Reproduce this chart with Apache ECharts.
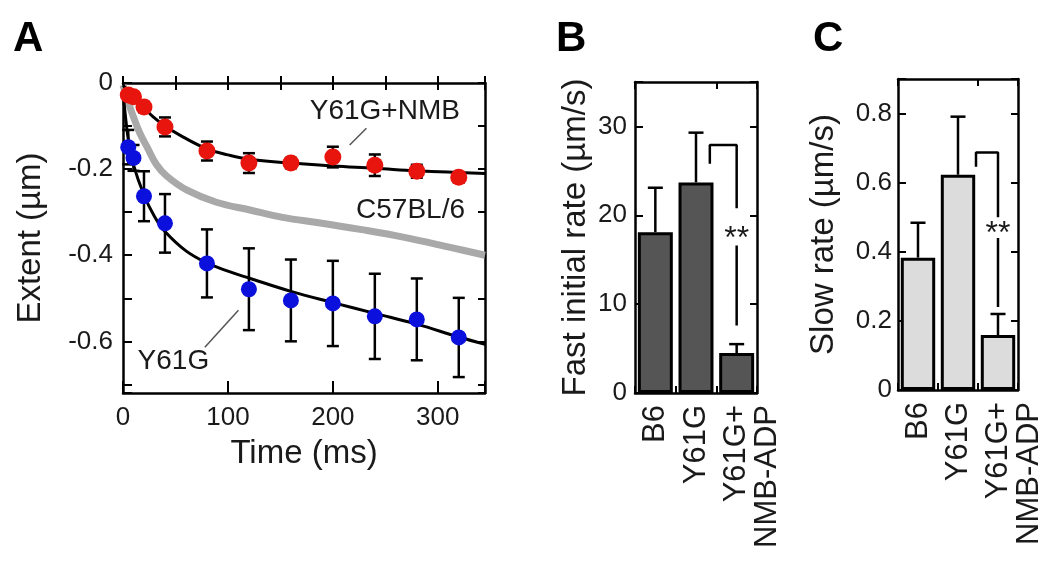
<!DOCTYPE html>
<html><head><meta charset="utf-8">
<script src="https://cdn.jsdelivr.net/npm/echarts@6/dist/echarts.min.js"></script>
<style>html,body{margin:0;padding:0;background:#fff}#c{width:1050px;height:578px}</style>
</head><body><div id="c"></div>
<script>
// ---- Panel A data ----
const timesMs = [5, 10, 20, 40, 80, 120, 160, 200, 240, 280, 320];
const nmbExtent = [-0.028, -0.032, -0.056, -0.102, -0.158, -0.186, -0.186, -0.172, -0.191, -0.205, -0.219];
const nmbErr = [0.005, 0.005, 0.012, 0.022, 0.022, 0.023, 0.012, 0.024, 0.025, 0.015, 0.012];
const y61gExtent = [-0.149, -0.174, -0.263, -0.326, -0.419, -0.479, -0.505, -0.512, -0.542, -0.549, -0.591];
const y61gErr = [0.04, 0.03, 0.058, 0.068, 0.079, 0.095, 0.095, 0.099, 0.099, 0.095, 0.092];
const nmbFitT = [0, 5, 10, 20, 29, 40, 57, 80, 100, 120, 160, 200, 240, 280, 345];
const nmbFitY = [-0.005, -0.02, -0.035, -0.058, -0.079, -0.1, -0.125, -0.153, -0.167, -0.177, -0.186, -0.193, -0.198, -0.204, -0.21];
const y61gFitT = [0, 2, 5, 10, 20, 30, 40, 60, 80, 100, 120, 160, 200, 240, 280, 320, 345];
const y61gFitY = [-0.02, -0.07, -0.13, -0.19, -0.26, -0.31, -0.345, -0.39, -0.418, -0.437, -0.453, -0.484, -0.51, -0.535, -0.56, -0.59, -0.607];
const b6FitT = [0, 5, 10, 16, 23, 32, 42, 61, 89, 121, 152, 188, 226, 267, 314, 345];
const b6FitY = [-0.005, -0.045, -0.079, -0.116, -0.149, -0.19, -0.217, -0.249, -0.277, -0.295, -0.312, -0.325, -0.34, -0.358, -0.383, -0.4];
const xTickLabelsA = [0, 100, 200, 300];
const yTickLabelsA = [0, -0.2, -0.4, -0.6];

// ---- Panels B & C data ----
const barCategories = ['B6', 'Y61G', 'Y61G+\nNMB-ADP'];
const fastRate = [18.1, 23.7, 4.5];
const fastRateErr = [5.0, 5.6, 1.0];
const slowRate = [0.383, 0.623, 0.159];
const slowRateErr = [0.101, 0.168, 0.061];
const bracketB = [[1.34, 25.8], [1.34, 27.9], [2, 27.9], [2, 20.8]];
const stemB = [[2, 16.6], [2, 7.6]];
const starB = [2, 17.3];
const bracketC = [[1.45, 0.646], [1.45, 0.687], [2, 0.687], [2, 0.50]];
const stemC = [[2, 0.44], [2, 0.24]];
const starC = [2, 0.452];

const FONT = '"Liberation Sans", Arial, Helvetica, sans-serif';
const TXT = '#1a1a1a';
const CAT_LH = 31;

const zip = (a, b) => a.map((v, i) => [v, b[i]]);
const zip3 = (a, b, c) => a.map((v, i) => [v, b[i], c[i]]);

function axisLineStyle() { return { show: true, onZero: false, lineStyle: { color: '#000', width: 2.5 } }; }
function ticks(len) { return { show: true, inside: true, length: len, lineStyle: { color: '#000', width: 2 } }; }

function errRenderBoth(params, api) {
  const x = api.value(0), y = api.value(1), e = api.value(2);
  const t = api.coord([x, y + e]), b = api.coord([x, y - e]);
  const hw = 6, st = { stroke: '#000', lineWidth: 2.5 };
  return { type: 'group', children: [
    { type: 'line', shape: { x1: t[0], y1: t[1], x2: b[0], y2: b[1] }, style: st },
    { type: 'line', shape: { x1: t[0] - hw, y1: t[1], x2: t[0] + hw, y2: t[1] }, style: st },
    { type: 'line', shape: { x1: b[0] - hw, y1: b[1], x2: b[0] + hw, y2: b[1] }, style: st }
  ]};
}
function errRenderUp(params, api) {
  const x = api.value(0), y = api.value(1), e = api.value(2);
  const t = api.coord([x, y + e]), b = api.coord([x, y]);
  const hw = 7.5, st = { stroke: '#000', lineWidth: 2.5 };
  return { type: 'group', children: [
    { type: 'line', shape: { x1: t[0], y1: t[1], x2: b[0], y2: b[1] }, style: st },
    { type: 'line', shape: { x1: t[0] - hw, y1: t[1], x2: t[0] + hw, y2: t[1] }, style: st }
  ]};
}
function textSeries(xAxisIndex, yAxisIndex, names, coords, fontSize) {
  return { type: 'custom', xAxisIndex, yAxisIndex, silent: true, clip: false, z: 10,
    renderItem: (params, api) => {
      const p = api.coord([api.value(0), api.value(1)]);
      return { type: 'text', x: p[0], y: p[1],
        style: { text: names[params.dataIndex], fill: TXT, font: fontSize + 'px ' + FONT,
          align: 'center', verticalAlign: 'middle' } };
    },
    data: coords };
}
function seg(xAxisIndex, yAxisIndex, data, color, width) {
  return { type: 'line', xAxisIndex, yAxisIndex, data, symbol: 'none', silent: true,
    lineStyle: { color, width }, z: 6 };
}

const fmtDec = v => (Math.abs(v) < 1e-9 ? '0' : v.toFixed(1));
// multi-line labels: first line centred on the tick, the next lines beside it
const catFormatter = v => {
  const n = v.split('\n').length;
  return n > 1 ? '\n'.repeat(n - 1) + v : v;
};
const catLabel = { rotate: 90, fontSize: 31, lineHeight: CAT_LH, color: TXT, margin: 12, fontFamily: FONT,
  interval: 0, formatter: catFormatter };

const chart = echarts.init(document.getElementById('c'), null, { renderer: 'canvas' });
chart.setOption({
  animation: false,
  backgroundColor: '#fff',
  textStyle: { fontFamily: FONT },
  grid: [
    { left: 123, top: 83, width: 362, height: 310, outerBoundsMode: 'none' },
    { left: 635, top: 82, width: 122, height: 311, outerBoundsMode: 'none' },
    { left: 898, top: 79, width: 120, height: 311, outerBoundsMode: 'none' }
  ],
  xAxis: [
    { type: 'value', gridIndex: 0, min: 0, max: 345, interval: 100, position: 'bottom',
      axisLine: axisLineStyle(), axisTick: ticks(12), splitLine: { show: false },
      minorTick: { show: false },
      axisLabel: { fontSize: 26, color: TXT, margin: 12, fontFamily: FONT,
        formatter: v => (xTickLabelsA.indexOf(v) >= 0 ? String(v) : '') },
      name: 'Time (ms)', nameLocation: 'middle', nameGap: 44,
      nameTextStyle: { fontSize: 33, color: TXT, fontFamily: FONT } },
    { type: 'value', gridIndex: 0, min: 0, max: 345, interval: 50, position: 'top',
      axisLine: axisLineStyle(), axisTick: ticks(7), axisLabel: { show: false }, splitLine: { show: false } },
    { type: 'category', gridIndex: 1, data: barCategories, position: 'bottom',
      axisLine: axisLineStyle(), axisTick: ticks(7), axisLabel: catLabel },
    { type: 'category', gridIndex: 1, data: barCategories, position: 'top',
      axisLine: axisLineStyle(), axisTick: ticks(7), axisLabel: { show: false } },
    { type: 'value', gridIndex: 1, min: -0.5, max: 2.5, show: false },
    { type: 'category', gridIndex: 2, data: barCategories, position: 'bottom',
      axisLine: axisLineStyle(), axisTick: ticks(7), axisLabel: catLabel },
    { type: 'category', gridIndex: 2, data: barCategories, position: 'top',
      axisLine: axisLineStyle(), axisTick: ticks(7), axisLabel: { show: false } },
    { type: 'value', gridIndex: 2, min: -0.5, max: 2.5, show: false },
    { type: 'value', gridIndex: 0, min: 0, max: 345, interval: 50, position: 'bottom',
      axisLine: { show: false }, axisTick: ticks(7), axisLabel: { show: false }, splitLine: { show: false } }
  ],
  yAxis: [
    { type: 'value', gridIndex: 0, min: -0.72, max: 0, splitNumber: 7, position: 'left',
      axisLine: axisLineStyle(), axisTick: ticks(9), splitLine: { show: false },
      axisLabel: { fontSize: 26, color: TXT, margin: 10, fontFamily: FONT,
        formatter: v => (yTickLabelsA.some(t => Math.abs(t - v) < 1e-6) ? fmtDec(v) : '') },
      name: 'Extent (µm)', nameLocation: 'middle', nameGap: 76,
      nameTextStyle: { fontSize: 33, color: TXT, fontFamily: FONT } },
    { type: 'value', gridIndex: 0, min: -0.72, max: 0, splitNumber: 7, position: 'right',
      axisLine: axisLineStyle(), axisTick: ticks(7), axisLabel: { show: false }, splitLine: { show: false } },
    { type: 'value', gridIndex: 1, min: 0, max: 35, interval: 10, position: 'left',
      axisLine: axisLineStyle(), axisTick: ticks(8), splitLine: { show: false },
      axisLabel: { fontSize: 26, color: TXT, margin: 8, fontFamily: FONT,
        formatter: v => (v % 10 === 0 ? String(v) : '') },
      name: 'Fast initial rate (µm/s)', nameLocation: 'middle', nameGap: 43,
      nameTextStyle: { fontSize: 33, color: TXT, fontFamily: FONT } },
    { type: 'value', gridIndex: 1, min: 0, max: 35, interval: 10, position: 'right',
      axisLine: axisLineStyle(), axisTick: ticks(7), axisLabel: { show: false }, splitLine: { show: false } },
    { type: 'value', gridIndex: 2, min: 0, max: 0.9, interval: 0.2, position: 'left',
      axisLine: axisLineStyle(), axisTick: ticks(8), splitLine: { show: false },
      axisLabel: { fontSize: 26, color: TXT, margin: 6, fontFamily: FONT,
        formatter: v => (Math.abs(v - 0.9) < 1e-6 ? '' : fmtDec(v)) },
      name: 'Slow rate (µm/s)', nameLocation: 'middle', nameGap: 58,
      nameTextStyle: { fontSize: 33, color: TXT, fontFamily: FONT } },
    { type: 'value', gridIndex: 2, min: 0, max: 0.9, interval: 0.2, position: 'right',
      axisLine: axisLineStyle(), axisTick: ticks(7), axisLabel: { show: false }, splitLine: { show: false } }
  ],
  graphic: [
    { type: 'text', left: 13, top: 18, style: { text: 'A', font: 'bold 42px ' + FONT, fill: '#000' } },
    { type: 'text', left: 556, top: 18, style: { text: 'B', font: 'bold 42px ' + FONT, fill: '#000' } },
    { type: 'text', left: 813, top: 18, style: { text: 'C', font: 'bold 42px ' + FONT, fill: '#000' } }
  ],
  series: [
    { type: 'line', xAxisIndex: 0, yAxisIndex: 0, data: zip(b6FitT, b6FitY), smooth: 0.4, symbol: 'none',
      lineStyle: { color: '#a9a9a9', width: 7 }, z: 2, silent: true },
    { type: 'line', xAxisIndex: 0, yAxisIndex: 0, data: zip(nmbFitT, nmbFitY), smooth: 0.4, symbol: 'none',
      lineStyle: { color: '#000', width: 3 }, z: 3, silent: true },
    { type: 'line', xAxisIndex: 0, yAxisIndex: 0, data: zip(y61gFitT, y61gFitY), smooth: 0.4, symbol: 'none',
      lineStyle: { color: '#000', width: 3 }, z: 3, silent: true },
    { type: 'custom', xAxisIndex: 0, yAxisIndex: 0, renderItem: errRenderBoth, data: zip3(timesMs, nmbExtent, nmbErr), z: 4, silent: true },
    { type: 'custom', xAxisIndex: 0, yAxisIndex: 0, renderItem: errRenderBoth, data: zip3(timesMs, y61gExtent, y61gErr), z: 4, silent: true },
    { type: 'scatter', xAxisIndex: 0, yAxisIndex: 0, data: zip(timesMs, nmbExtent), symbolSize: 17,
      itemStyle: { color: '#e8140e', opacity: 1 }, z: 5, silent: true },
    { type: 'scatter', xAxisIndex: 0, yAxisIndex: 0, data: zip(timesMs, y61gExtent), symbolSize: 16,
      itemStyle: { color: '#0c10dc', opacity: 1 }, z: 5, silent: true },
    seg(0, 0, [[216, -0.144], [232, -0.105]], '#555', 1.5),
    seg(0, 0, [[78, -0.614], [110, -0.528]], '#555', 1.5),
    textSeries(0, 0, ['Y61G+NMB', 'C57BL/6', 'Y61G'], [[249.5, -0.065], [274, -0.295], [48, -0.647]], 28),
    { type: 'bar', xAxisIndex: 2, yAxisIndex: 2, data: fastRate, barCategoryGap: '14%',
      itemStyle: { color: '#555555', borderColor: '#000', borderWidth: 3 }, z: 2, silent: true },
    { type: 'custom', xAxisIndex: 2, yAxisIndex: 2, renderItem: errRenderUp,
      data: fastRate.map((v, i) => [i, v, fastRateErr[i]]), z: 4, silent: true },
    seg(4, 2, bracketB, '#000', 2.5),
    seg(4, 2, stemB, '#000', 2.5),
    textSeries(4, 2, ['**'], [starB], 32),
    { type: 'bar', xAxisIndex: 5, yAxisIndex: 4, data: slowRate, barCategoryGap: '14%',
      itemStyle: { color: '#dcdcdc', borderColor: '#000', borderWidth: 3 }, z: 2, silent: true },
    { type: 'custom', xAxisIndex: 5, yAxisIndex: 4, renderItem: errRenderUp,
      data: slowRate.map((v, i) => [i, v, slowRateErr[i]]), z: 4, silent: true },
    seg(7, 4, bracketC, '#000', 2.5),
    seg(7, 4, stemC, '#000', 2.5),
    textSeries(7, 4, ['**'], [starC], 32)
  ]
});
</script></body></html>
